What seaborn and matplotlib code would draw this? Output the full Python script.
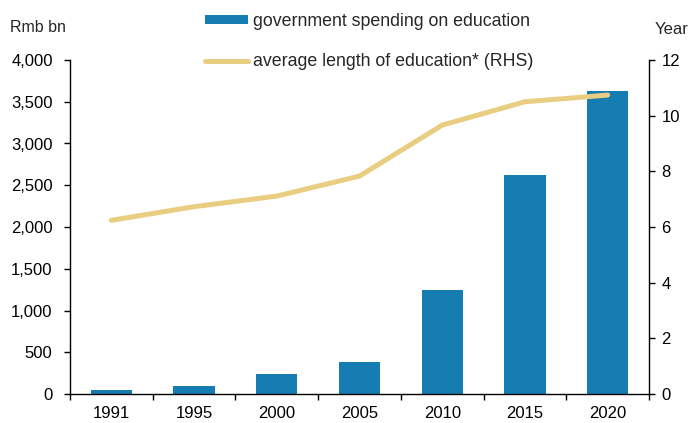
import numpy as np
import pandas as pd
import matplotlib
matplotlib.use("Agg")
import matplotlib.pyplot as plt
from matplotlib.patches import Patch
from matplotlib.lines import Line2D
from matplotlib.ticker import FuncFormatter, FixedLocator
import seaborn as sns

# Data
years = ["1991", "1995", "2000", "2005", "2010", "2015", "2020"]
spending_rmb_bn = [50, 98, 245, 388, 1242, 2620, 3633]
avg_years_education = [6.24, 6.73, 7.11, 7.83, 9.66, 10.50, 10.74]

bar_label = "government spending on education"
line_label = "average length of education* (RHS)"

BAR_COLOR = "#157db2"
LINE_COLOR = "#e9cd80"

sns.set_theme(style="white")
plt.rcParams["font.family"] = ["Liberation Sans", "DejaVu Sans"]
plt.rcParams["font.size"] = 12

df = pd.DataFrame({"year": years, "spending": spending_rmb_bn,
                   "edu": avg_years_education})
df["pos"] = np.arange(len(years))

W, H = 691, 423
fig = plt.figure(figsize=(W / 100, H / 100), dpi=100)
ax = fig.add_axes([70 / W, 29 / H, 579 / W, 334 / H])

sns.barplot(data=df, x="year", y="spending", color=BAR_COLOR, width=0.5,
            saturation=1, edgecolor="none", ax=ax)
ax.set_xlim(-0.5, len(years) - 0.5)
ax.set_ylim(0, 4000)
ax.set_yticks(np.arange(0, 4001, 500))
ax.yaxis.set_major_formatter(FuncFormatter(lambda v, p: f"{int(v):,}"))
ax.set_xlabel("")
ax.set_ylabel("")

ax2 = ax.twinx()
sns.lineplot(data=df, x="pos", y="edu", color=LINE_COLOR, linewidth=3.6,
             ax=ax2, legend=False)
ax2.set_ylim(0, 12)
ax2.set_yticks(np.arange(0, 13, 2))
ax2.set_ylabel("")
ax2.set_xlim(-0.5, len(years) - 0.5)

# Category labels in the middle, tick marks on the category boundaries
ax.set_xticks(np.arange(len(years)))
ax.set_xticklabels(years)
ax.xaxis.set_minor_locator(FixedLocator(np.arange(len(years) + 1) - 0.5))
ax.tick_params(axis="x", which="major", length=0, pad=8.5, labelsize=12,
               colors="black")
ax.tick_params(axis="x", which="minor", bottom=True, length=4.5, width=1,
               color="black")
ax.tick_params(axis="y", left=True, length=4, width=1, pad=8.5,
               labelsize=12, colors="black")
ax2.tick_params(axis="y", right=True, length=4, width=1, pad=5,
                labelsize=12, colors="black")

for a in (ax, ax2):
    a.spines["top"].set_visible(False)
    for s in ("left", "right", "bottom"):
        a.spines[s].set_color("black")
        a.spines[s].set_linewidth(1)
    a.grid(False)
ax.spines["right"].set_visible(False)
ax2.spines["left"].set_visible(False)
ax2.spines["bottom"].set_visible(False)

fig.text(10 / W, 1 - 28 / H, "Rmb bn", ha="left", va="center", fontsize=11.5)
fig.text(689 / W, 1 - 29 / H, "Year", ha="right", va="center", fontsize=12)

handles = [Patch(facecolor=BAR_COLOR, edgecolor="none", label=bar_label),
           Line2D([0], [0], color=LINE_COLOR, linewidth=3.6, label=line_label)]
fig.legend(handles=handles, loc="upper left",
           bbox_to_anchor=(205 / W, 1 - 13 / H), frameon=False, fontsize=12.8,
           handlelength=2.4, handleheight=0.45, handletextpad=0.3,
           labelspacing=1.3, borderpad=0, borderaxespad=0)

fig.savefig("out.png", dpi=100)
